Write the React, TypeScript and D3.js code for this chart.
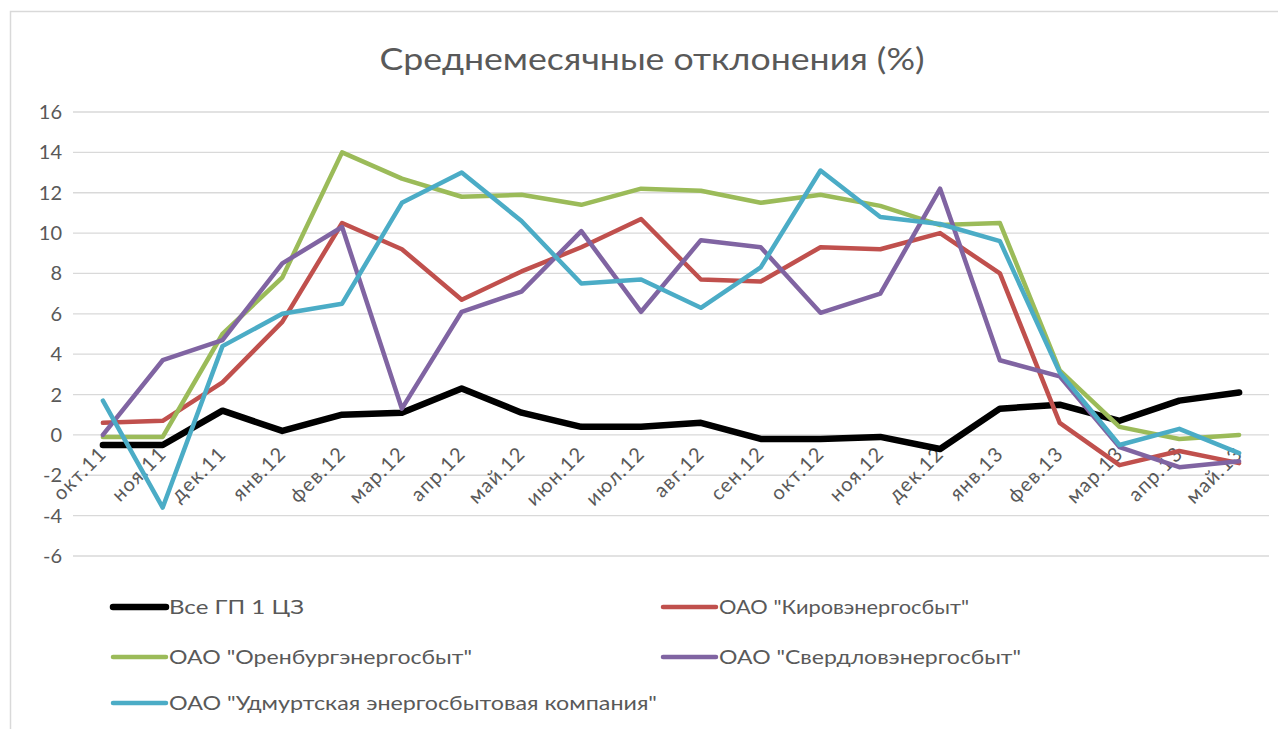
import React from "react";
import * as d3 from "d3";

const categories = [
  "окт.11", "ноя.11", "дек.11", "янв.12", "фев.12", "мар.12", "апр.12", "май.12", "июн.12", "июл.12",
  "авг.12", "сен.12", "окт.12", "ноя.12", "дек.12", "янв.13", "фев.13", "мар.13", "апр.13", "май.13",
];

const seriesNames = [
  "Все ГП 1 ЦЗ",
  "ОАО \"Кировэнергосбыт\"",
  "ОАО \"Оренбургэнергосбыт\"",
  "ОАО \"Свердловэнергосбыт\"",
  "ОАО \"Удмуртская энергосбытовая компания\"",
];

const allGP = [-0.5, -0.5, 1.2, 0.2, 1.0, 1.1, 2.3, 1.1, 0.4, 0.4, 0.6, -0.2, -0.2, -0.1, -0.7, 1.3, 1.5, 0.7, 1.7, 2.1];
const kirov = [0.6, 0.7, 2.6, 5.6, 10.5, 9.2, 6.7, 8.1, 9.3, 10.7, 7.7, 7.6, 9.3, 9.2, 10.0, 8.0, 0.6, -1.5, -0.8, -1.4];
const orenburg = [-0.1, -0.1, 5.0, 7.8, 14.0, 12.7, 11.8, 11.9, 11.4, 12.2, 12.1, 11.5, 11.9, 11.35, 10.4, 10.5, 3.2, 0.4, -0.2, 0.0];
const sverdlov = [0.0, 3.7, 4.7, 8.5, 10.3, 1.3, 6.1, 7.1, 10.1, 6.1, 9.65, 9.3, 6.05, 7.0, 12.2, 3.7, 2.9, -0.6, -1.6, -1.3];
const udmurt = [1.7, -3.6, 4.4, 6.0, 6.5, 11.5, 13.0, 10.6, 7.5, 7.7, 6.3, 8.3, 13.1, 10.8, 10.45, 9.6, 3.1, -0.5, 0.3, -0.9];

const yTicks = [-6, -4, -2, 0, 2, 4, 6, 8, 10, 12, 14, 16];
const title = "Среднемесячные отклонения (%)";

const colors = ["#000000", "#C0504D", "#9BBB59", "#8064A2", "#4BACC6"];
const widths = [6.5, 4.5, 4.5, 4.5, 4.5];
const allSeries = [allGP, kirov, orenburg, sverdlov, udmurt];

const FONT = "Lato, 'Open Sans', sans-serif";
const TEXT = "#595959";

export default function App() {
  const W = 1278, H = 729;
  const x = d3.scaleBand<string>().domain(categories).range([73, 1269]);
  const y = d3.scaleLinear().domain([-6, 16]).range([556, 112]);
  const cx = (c: string) => (x(c) as number) + x.bandwidth() / 2;
  const line = d3
    .line<number>()
    .x((_, i) => cx(categories[i]))
    .y((v) => y(v));

  const legendPos = [
    { lx: 113, ly: 607, tl: 135 },
    { lx: 663, ly: 607, tl: 250 },
    { lx: 113, ly: 657, tl: 303 },
    { lx: 663, ly: 657, tl: 302 },
    { lx: 113, ly: 703, tl: 488 },
  ];

  return (
    <svg width={W} height={H} style={{ position: "absolute", left: 0, top: 0, background: "#fff" }}>
      <rect x={0} y={0} width={W} height={H} fill="#fff" />
      <rect x={10.5} y={11.5} width={W + 20} height={H + 20} fill="none" stroke="#d9d9d9" strokeWidth={1.5} />
      <text
        x={652}
        y={70}
        textAnchor="middle"
        fontFamily={FONT}
        fontSize={31}
        fill={TEXT}
        textLength={545}
        lengthAdjust="spacingAndGlyphs"
      >
        {title}
      </text>
      {yTicks.map((t) => (
        <g key={t}>
          <line x1={73} x2={1269} y1={y(t)} y2={y(t)} stroke="#d9d9d9" strokeWidth={1.3} />
          <text x={62} y={y(t)} dy="0.35em" textAnchor="end" fontFamily={FONT} fontSize={20} fill={TEXT}>
            {t}
          </text>
        </g>
      ))}
      {categories.map((c) => (
        <text
          key={c}
          transform={`translate(${cx(c) + 5},${y(0) + 20}) rotate(-45)`}
          textAnchor="end"
          fontFamily={FONT}
          fontSize={20}
          letterSpacing={1.2}
          fill={TEXT}
        >
          {c}
        </text>
      ))}
      {allSeries.map((s, i) => (
        <path
          key={i}
          d={line(s) as string}
          fill="none"
          stroke={colors[i]}
          strokeWidth={widths[i]}
          strokeLinejoin="round"
          strokeLinecap="round"
        />
      ))}
      {seriesNames.map((n, i) => {
        const p = legendPos[i];
        return (
          <g key={n}>
            <line
              x1={p.lx}
              x2={p.lx + 53}
              y1={p.ly}
              y2={p.ly}
              stroke={colors[i]}
              strokeWidth={widths[i]}
              strokeLinecap="round"
            />
            <text
              x={p.lx + 56}
              y={p.ly}
              dy="0.35em"
              fontFamily={FONT}
              fontSize={20}
              fill={TEXT}
              textLength={p.tl}
              lengthAdjust="spacingAndGlyphs"
            >
              {n}
            </text>
          </g>
        );
      })}
    </svg>
  );
}
